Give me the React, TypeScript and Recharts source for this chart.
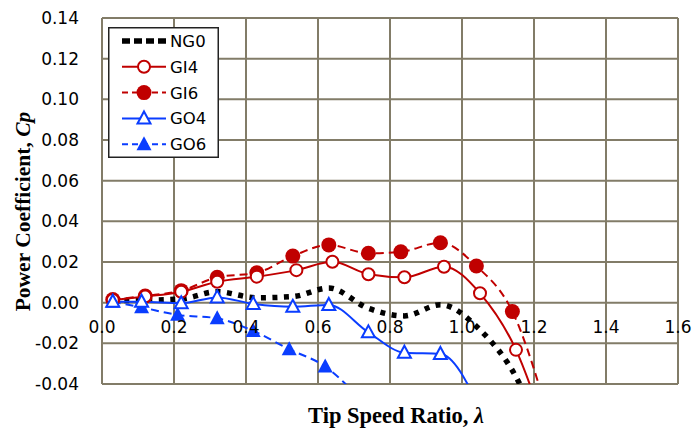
import { LineChart, Line, XAxis, YAxis, CartesianGrid } from "recharts";

// tip speed ratio (lambda) at each measured point
const lambdaNG0 = [0.03, 0.12, 0.22, 0.32, 0.43, 0.53, 0.63, 0.74, 0.84, 0.94, 1.05, 1.15, 1.25];
const cpNG0 = [0.001, 0.0012, 0.0018, 0.0054, 0.0024, 0.003, 0.0072, -0.0028, -0.0065, -0.001, -0.0134, -0.0365, -0.078];

const lambdaGI4 = [0.03, 0.12, 0.22, 0.32, 0.43, 0.54, 0.64, 0.74, 0.84, 0.95, 1.05, 1.15, 1.25];
const cpGI4 = [0.0013, 0.003, 0.0054, 0.0103, 0.0128, 0.016, 0.0201, 0.014, 0.0125, 0.0177, 0.0046, -0.0232, -0.072];

const lambdaGI6 = [0.03, 0.12, 0.22, 0.32, 0.43, 0.53, 0.63, 0.74, 0.83, 0.94, 1.04, 1.14, 1.25];
const cpGI6 = [0.0015, 0.0033, 0.0059, 0.0125, 0.0147, 0.0229, 0.0284, 0.0243, 0.025, 0.0295, 0.018, -0.0044, -0.062];

const lambdaGO4 = [0.03, 0.11, 0.22, 0.32, 0.42, 0.53, 0.63, 0.74, 0.84, 0.94, 1.05];
const cpGO4 = [0.0005, 0.0005, -0.0003, 0.0026, -0.0006, -0.002, -0.0011, -0.0146, -0.0246, -0.0252, -0.052];

const lambdaGO6 = [0.03, 0.11, 0.21, 0.32, 0.42, 0.52, 0.62, 0.74];
const cpGO6 = [0.0005, -0.0023, -0.006, -0.0077, -0.0139, -0.0229, -0.0314, -0.052];

const xTicks = [0, 0.2, 0.4, 0.6, 0.8, 1.0, 1.2, 1.4, 1.6];
const yTicks = [-0.04, -0.02, 0, 0.02, 0.04, 0.06, 0.08, 0.1, 0.12, 0.14];

const toRows = (xs: number[], ys: number[]) => xs.map((x, i) => ({ x, cp: ys[i] }));

const RED = "#c00000";
const BLUE = "#0a3dff";
const GRID = "#827c68";
const TICK_FONT = "'DejaVu Sans', sans-serif";
const TITLE_FONT = "'Liberation Serif', 'Times New Roman', serif";

const W = 692;
const H = 433;
const TOP = 18;
const PLOT_H = 366;
const zeroY = TOP + (PLOT_H * 0.14) / 0.18;

const OpenCircle = (p: any) => (
  <circle cx={p.cx} cy={p.cy} r={6} fill="#fff" stroke={RED} strokeWidth={2} />
);
const FilledCircle = (p: any) => <circle cx={p.cx} cy={p.cy} r={7.5} fill={RED} />;
const OpenTriangle = (p: any) => (
  <path
    d={`M${p.cx},${p.cy - 7} L${p.cx + 6.5},${p.cy + 5} L${p.cx - 6.5},${p.cy + 5} Z`}
    fill="#fff"
    stroke={BLUE}
    strokeWidth={2}
  />
);
const FilledTriangle = (p: any) => (
  <path
    d={`M${p.cx},${p.cy - 8} L${p.cx + 7.5},${p.cy + 6} L${p.cx - 7.5},${p.cy + 6} Z`}
    fill={BLUE}
  />
);

const XTick = (p: any) => (
  <text
    x={p.x}
    y={zeroY + 30.5}
    textAnchor="middle"
    fontFamily={TICK_FONT}
    fontSize={17}
    fill="#000"
  >
    {Number(p.payload.value).toFixed(1)}
  </text>
);

const YTick = (p: any) => (
  <text
    x={79}
    y={p.y + 6}
    textAnchor="end"
    fontFamily={TICK_FONT}
    fontSize={17}
    fill="#000"
  >
    {Number(p.payload.value).toFixed(2)}
  </text>
);

const legendItems = [
  { name: "NG0", color: "#000", width: 5.5, dash: "8 4", mark: null },
  { name: "GI4", color: RED, width: 2, dash: undefined, mark: OpenCircle },
  { name: "GI6", color: RED, width: 2, dash: "6 4", mark: FilledCircle },
  { name: "GO4", color: BLUE, width: 2, dash: undefined, mark: OpenTriangle },
  { name: "GO6", color: BLUE, width: 2, dash: "6 4", mark: FilledTriangle },
];

const ChartLegend = ({ x, y }: { x: number; y: number }) => (
  <g transform={`translate(${x}, ${y})`}>
    <rect x={0.75} y={0.75} width={109.5} height={129.5} fill="#fff" stroke="#222" strokeWidth={1.5} />
    {legendItems.map((item, i) => {
      const cy = 14 + i * 25.8;
      const Mark = item.mark;
      return (
        <g key={item.name}>
          <line
            x1={14}
            x2={58}
            y1={cy}
            y2={cy}
            stroke={item.color}
            strokeWidth={item.width}
            strokeDasharray={item.dash}
          />
          {Mark ? <Mark cx={36} cy={cy} /> : null}
          <text x={62} y={cy + 6} fontFamily={TICK_FONT} fontSize={16.5} fill="#000">
            {item.name}
          </text>
        </g>
      );
    })}
  </g>
);

export default function App() {
  return (
    <div style={{ position: "absolute", left: 0, top: 0, width: W, height: H, background: "#fff" }}>
      <LineChart width={W} height={H} margin={{ top: TOP, right: 14, left: 0, bottom: 0 }}>
        <CartesianGrid stroke={GRID} strokeWidth={2} horizontalValues={yTicks} verticalValues={xTicks} />
        <XAxis
          type="number"
          dataKey="x"
          domain={[0, 1.6]}
          ticks={xTicks}
          height={49}
          axisLine={false}
          tickLine={false}
          tick={<XTick />}
          allowDataOverflow
        />
        <YAxis
          type="number"
          dataKey="cp"
          domain={[-0.04, 0.14]}
          ticks={yTicks}
          width={102}
          axisLine={false}
          tickLine={false}
          tick={<YTick />}
          allowDataOverflow
        />
        <Line
          name="NG0"
          data={toRows(lambdaNG0, cpNG0)}
          dataKey="cp"
          type="monotone"
          stroke="#000"
          strokeWidth={5.5}
          strokeDasharray="5 6.5"
          dot={false}
          isAnimationActive={false}
        />
        <Line
          name="GI6"
          data={toRows(lambdaGI6, cpGI6)}
          dataKey="cp"
          type="monotone"
          stroke={RED}
          strokeWidth={2}
          strokeDasharray="8 5"
          dot={<FilledCircle />}
          isAnimationActive={false}
        />
        <Line
          name="GI4"
          data={toRows(lambdaGI4, cpGI4)}
          dataKey="cp"
          type="monotone"
          stroke={RED}
          strokeWidth={2}
          dot={<OpenCircle />}
          isAnimationActive={false}
        />
        <Line
          name="GO6"
          data={toRows(lambdaGO6, cpGO6)}
          dataKey="cp"
          type="monotone"
          stroke={BLUE}
          strokeWidth={2}
          strokeDasharray="8 5"
          dot={<FilledTriangle />}
          isAnimationActive={false}
        />
        <Line
          name="GO4"
          data={toRows(lambdaGO4, cpGO4)}
          dataKey="cp"
          type="monotone"
          stroke={BLUE}
          strokeWidth={2}
          dot={<OpenTriangle />}
          isAnimationActive={false}
        />
      </LineChart>
      <svg width={W} height={H} style={{ position: "absolute", left: 0, top: 0, pointerEvents: "none" }}>
        <ChartLegend x={108} y={27} />
        <text
          transform="translate(30, 211.5) rotate(-90)"
          textAnchor="middle"
          fontFamily={TITLE_FONT}
          fontWeight="bold"
          fontSize={21.5}
          fill="#000"
        >
          Power Coefficient, <tspan fontStyle="italic">Cp</tspan>
        </text>
        <text
          x={396}
          y={423}
          textAnchor="middle"
          fontFamily={TITLE_FONT}
          fontWeight="bold"
          fontSize={22.5}
          fill="#000"
        >
          Tip Speed Ratio, <tspan fontStyle="italic">λ</tspan>
        </text>
      </svg>
    </div>
  );
}
